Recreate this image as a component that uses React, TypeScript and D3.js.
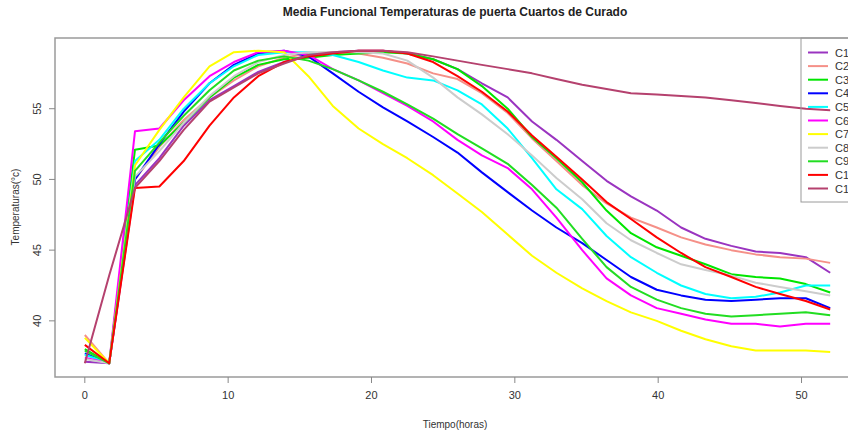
import React from 'react'
import * as d3 from 'd3'

// hours of measurement
const hours = [0, 1.7, 3.5, 5.2, 6.9, 8.7, 10.4, 12.1, 13.9, 15.6, 17.3, 19.1, 20.8, 22.5, 24.3, 26,
  27.7, 29.5, 31.2, 32.9, 34.7, 36.4, 38.1, 39.9, 41.6, 43.3, 45.1, 46.8, 48.5, 50.3, 52]

const c1 = [37.1, 37.0, 49.6, 51.5, 53.8, 55.6, 56.6, 57.6, 58.3, 58.8, 59.0, 59.1, 59.1, 58.9, 58.5, 57.8,
  56.8, 55.8, 54.1, 52.8, 51.3, 49.9, 48.8, 47.8, 46.6, 45.8, 45.3, 44.9, 44.8, 44.5, 43.4]
const c2 = [39.0, 37.0, 50.0, 52.3, 54.2, 55.8, 57.0, 58.0, 58.6, 58.9, 59.0, 58.9, 58.6, 58.2, 57.5, 57.1,
  56.1, 54.7, 52.9, 51.3, 49.6, 48.3, 47.3, 46.6, 45.9, 45.4, 45.0, 44.7, 44.5, 44.4, 44.1]
const c3 = [38.0, 37.0, 52.1, 52.4, 54.0, 55.8, 57.2, 58.1, 58.5, 58.6, 58.8, 58.9, 59.0, 58.9, 58.5, 57.8,
  56.6, 55.0, 53.0, 51.5, 49.8, 47.8, 46.2, 45.2, 44.6, 44.0, 43.3, 43.1, 43.0, 42.6, 42.0]
const c4 = [37.7, 37.0, 50.0, 52.5, 54.8, 56.8, 58.1, 58.9, 59.1, 58.7, 57.5, 56.2, 55.1, 54.1, 53.0, 51.9,
  50.5, 49.1, 47.8, 46.6, 45.5, 44.3, 43.1, 42.2, 41.8, 41.5, 41.4, 41.5, 41.6, 41.6, 40.9]
const c5 = [37.6, 37.0, 51.3, 52.8, 55.0, 56.8, 58.0, 58.8, 59.0, 59.0, 58.8, 58.3, 57.7, 57.2, 57.0, 56.3,
  55.3, 53.6, 51.5, 49.3, 47.9, 46.0, 44.5, 43.4, 42.5, 41.9, 41.6, 41.7, 42.0, 42.5, 42.5]
const c6 = [37.4, 37.0, 53.4, 53.6, 55.6, 57.3, 58.3, 59.0, 59.1, 58.8, 57.8, 57.0, 56.1, 55.2, 54.1, 52.8,
  51.7, 50.8, 49.3, 47.3, 45.0, 43.0, 41.8, 40.9, 40.5, 40.1, 39.8, 39.8, 39.6, 39.8, 39.8]
const c7 = [38.8, 37.0, 51.0, 53.5, 55.8, 58.0, 59.0, 59.1, 59.0, 57.3, 55.2, 53.6, 52.5, 51.5, 50.3, 49.0,
  47.7, 46.1, 44.6, 43.4, 42.3, 41.4, 40.6, 40.0, 39.3, 38.7, 38.2, 37.9, 37.9, 37.9, 37.8]
const c8 = [37.3, 37.0, 50.2, 52.0, 54.0, 55.9, 57.3, 58.3, 58.8, 59.0, 59.0, 59.0, 58.9, 58.4, 57.2, 55.8,
  54.6, 53.2, 51.7, 50.1, 48.6, 46.9, 45.7, 44.8, 44.0, 43.6, 43.2, 42.7, 42.4, 42.1, 41.8]
const c9 = [37.9, 37.0, 50.6, 52.6, 54.5, 56.3, 57.7, 58.4, 58.7, 58.4, 57.8, 57.0, 56.2, 55.3, 54.3, 53.2,
  52.2, 51.1, 49.6, 48.0, 45.8, 43.8, 42.4, 41.5, 40.9, 40.5, 40.3, 40.4, 40.5, 40.6, 40.4]
const c10 = [38.3, 37.0, 49.4, 49.5, 51.3, 53.8, 55.8, 57.3, 58.3, 58.7, 58.9, 59.1, 59.1, 58.9, 58.3, 57.3,
  56.2, 54.8, 53.1, 51.6, 50.0, 48.4, 47.2, 45.9, 44.8, 43.8, 43.1, 42.4, 41.9, 41.4, 40.8]
const c11 = [37.0, 43.2, 49.4, 51.3, 53.5, 55.5, 56.5, 57.5, 58.2, 58.8, 59.0, 59.1, 59.1, 59.0, 58.7, 58.4,
  58.1, 57.8, 57.5, 57.1, 56.7, 56.4, 56.1, 56.0, 55.9, 55.8, 55.6, 55.4, 55.2, 55.0, 54.9]

const seriesNames = ['C1', 'C2', 'C3', 'C4', 'C5', 'C6', 'C7', 'C8', 'C9', 'C10', 'C11']
const seriesValues = [c1, c2, c3, c4, c5, c6, c7, c8, c9, c10, c11]
const seriesColors = ['#9a34c0', '#f59088', '#00e600', '#0000ff', '#00ffff', '#ff00ff',
  '#ffff00', '#cccccc', '#22dd22', '#ff0000', '#b5416e']

const xTicks = [0, 10, 20, 30, 40, 50]
const yTicks = [40, 45, 50, 55]

const W = 848
const H = 436
const left = 55
const right = 860
const top = 38
const bottom = 377

export default function App () {
  const xScale = d3.scaleLinear().domain([-2.08, 54.08]).range([left, right])
  const yScale = d3.scaleLinear().domain([36.03, 60.0]).range([bottom, top])
  const line = d3.line<number>()
    .x((d, i) => xScale(hours[i]))
    .y(d => yScale(d))

  const font = '"Liberation Sans", Arial, sans-serif'
  const legendX = 801
  const legendY = 52.5
  const legendStep = 13.6

  return (
    <svg width={W} height={H} style={{ position: 'absolute', left: 0, top: 0, background: '#fff' }}
      fontFamily={font}>
      <text x={455} y={16} textAnchor='middle' fontSize={12} fontWeight='bold' fill='#222'>
        Media Funcional Temperaturas de puerta Cuartos de Curado
      </text>

      {seriesValues.map((vals, k) => (
        <path key={seriesNames[k]} d={line(vals) || ''} fill='none' stroke={seriesColors[k]}
          strokeWidth={2} strokeLinejoin='round' />
      ))}

      {/* plot box */}
      <rect x={left} y={top} width={right - left} height={bottom - top} fill='none'
        stroke='#9a9a9a' strokeWidth={1.5} />

      {/* x axis */}
      {xTicks.map(t => (
        <g key={t}>
          <line x1={xScale(t)} x2={xScale(t)} y1={bottom} y2={bottom + 6} stroke='#888' />
          <text x={xScale(t)} y={399} textAnchor='middle' fontSize={11} fill='#333'>{t}</text>
        </g>
      ))}
      <text x={455} y={428} textAnchor='middle' fontSize={10} fill='#333'>Tiempo(horas)</text>

      {/* y axis */}
      {yTicks.map(t => (
        <g key={t}>
          <line x1={left - 6} x2={left} y1={yScale(t)} y2={yScale(t)} stroke='#888' />
          <text transform={`translate(${41},${yScale(t)}) rotate(-90)`} textAnchor='middle'
            fontSize={11} fill='#333'>{t}</text>
        </g>
      ))}
      <text transform={`translate(${19},${207}) rotate(-90)`} textAnchor='middle' fontSize={10}
        fill='#333'>Temperaturas(°c)</text>

      {/* legend */}
      <rect x={legendX} y={top} width={80} height={202 - top} fill='none' stroke='#9a9a9a' strokeWidth={1} />
      {seriesNames.map((n, k) => (
        <g key={n}>
          <line x1={808} x2={828} y1={legendY + k * legendStep} y2={legendY + k * legendStep}
            stroke={seriesColors[k]} strokeWidth={2} />
          <text x={835} y={legendY + k * legendStep + 4} fontSize={11} fill='#333'>{n}</text>
        </g>
      ))}
    </svg>
  )
}
